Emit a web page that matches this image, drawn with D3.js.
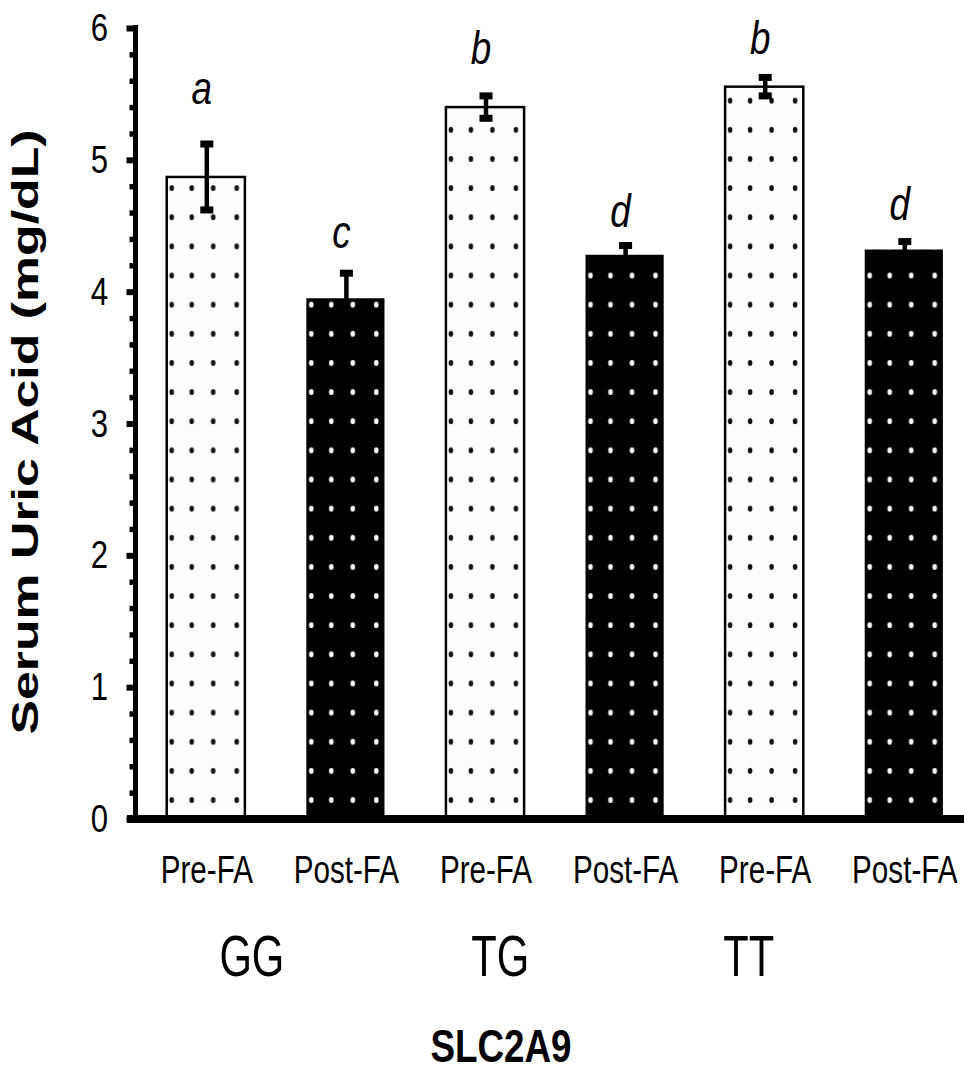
<!DOCTYPE html>
<html>
<head>
<meta charset="utf-8">
<script src="https://cdn.jsdelivr.net/npm/d3@7/dist/d3.min.js"></script>
<style>
html,body{margin:0;padding:0;background:#fff;}
svg{display:block;}
text{font-family:"Liberation Sans",Arial,Helvetica,sans-serif;fill:#000;}
</style>
</head>
<body>
<svg id="chart" width="964" height="1072"></svg>
<script>
// ---- data ----
const categories = ["Pre-FA","Post-FA","Pre-FA","Post-FA","Pre-FA","Post-FA"];
const phase = ["pre","post","pre","post","pre","post"];
const genotypes = ["GG","TG","TT"];
const means = [4.87, 3.95, 5.40, 4.28, 5.555, 4.32];
const errors = [0.25, 0.19, 0.085, 0.07, 0.07, 0.06];
const letters = ["a","c","b","d","b","d"];
const letterY = [5.42, 4.33, 5.73, 4.49, 5.80, 4.54];
const yTicks = [0,1,2,3,4,5,6];
const yTickLabels = ["0","1","2","3","4","5","6"];
const yMinor = [0.2,0.4,0.6,0.8,1.2,1.4,1.6,1.8,2.2,2.4,2.6,2.8,3.2,3.4,3.6,3.8,4.2,4.4,4.6,4.8,5.2,5.4,5.6,5.8];
const genotypeOffset = [0.33, 0.11, -0.11]; // label position relative to first bar of pair, in steps
const xTitle = "SLC2A9";
const yTitle = "Serum Uric Acid (mg/dL)";

// ---- layout ----
const svg = d3.select("#chart");
svg.append("rect").attr("width",964).attr("height",1072).attr("fill","#fff");

const y = d3.scaleLinear().domain([0,6]).range([819,28]);
const x = d3.scaleBand().domain(d3.range(categories.length)).range([136,973.6])
  .paddingInner(0.44).paddingOuter(0.22);
const bw = x.bandwidth();

// dot patterns
const defs = svg.append("defs");
const dotCols = [5, 25, 46.5, 70];
const rowStep = 29.14;
function makePattern(id, bg, dot){
  const p = defs.append("pattern").attr("id",id)
    .attr("patternUnits","userSpaceOnUse")
    .attr("x", x(0)).attr("y", y(0) - 19 - rowStep/2)
    .attr("width", x.step()).attr("height", rowStep);
  p.append("rect").attr("width", x.step()).attr("height", rowStep).attr("fill", bg);
  dotCols.forEach(c => p.append("ellipse").attr("cx", c).attr("cy", rowStep/2)
    .attr("rx", 2.3).attr("ry", 3).attr("fill", dot));
}
makePattern("lightDots", "#fdfdfd", "#111");
makePattern("darkDots", "#000", "#fff");

// bars
const idx = d3.range(categories.length);
svg.append("g").selectAll("rect").data(idx).join("rect")
  .attr("x", i => x(i))
  .attr("y", i => y(means[i]))
  .attr("width", bw)
  .attr("height", i => y(0) - y(means[i]))
  .attr("fill", i => phase[i]==="pre" ? "url(#lightDots)" : "url(#darkDots)")
  .attr("stroke", i => phase[i]==="pre" ? "#000" : "none")
  .attr("stroke-width", 2.5);

// error bars
const eg = svg.append("g");
idx.forEach(i => {
  const cx = x(i) + bw/2 + 1;
  eg.append("line").attr("x1",cx).attr("x2",cx)
    .attr("y1", y(means[i]-errors[i])).attr("y2", y(means[i]+errors[i]))
    .attr("stroke","#000").attr("stroke-width",4.5);
  [means[i]-errors[i], means[i]+errors[i]].forEach(v => {
    eg.append("rect").attr("x", cx-6.5).attr("y", y(v)-3.5).attr("width",13).attr("height",7).attr("fill","#000");
  });
});

// helper for condensed text
function stext(g, xx, yy, str, size, sx, opts={}){
  return g.append("text")
    .attr("transform", `translate(${xx},${yy}) scale(${sx},1)`)
    .attr("text-anchor", opts.anchor || "middle")
    .attr("font-size", size)
    .attr("font-weight", opts.weight || "normal")
    .attr("font-style", opts.style || "normal")
    .text(str);
}

// letters
const lg = svg.append("g");
idx.forEach(i => stext(lg, x(i)+bw/2-4, y(letterY[i]), letters[i], 46, 0.8, {style:"italic"}));

// y axis ticks
const minorAxis = d3.axisLeft(y).tickValues(yMinor).tickSize(6).tickFormat("");
const gMinor = svg.append("g").attr("transform","translate(135.5,0)").call(minorAxis);
gMinor.select(".domain").remove();
gMinor.selectAll(".tick line").attr("stroke","#000").attr("stroke-width",5.5);

const majorAxis = d3.axisLeft(y).tickValues(yTicks).tickSize(9).tickFormat("");
const gMajor = svg.append("g").attr("transform","translate(135.5,0)").call(majorAxis);
gMajor.select(".domain").remove();
gMajor.selectAll(".tick line").attr("stroke","#000").attr("stroke-width",6);

// y spine
svg.append("line").attr("x1",135.5).attr("x2",135.5).attr("y1",y(6)-3).attr("y2",y(0))
  .attr("stroke","#000").attr("stroke-width",5);

// y tick labels
const tl = svg.append("g");
yTicks.forEach((t,k) => stext(tl, 108, y(t)+13, yTickLabels[k], 38, 0.82, {anchor:"end"}));

// x axis line
svg.append("line").attr("x1",127).attr("x2",964).attr("y1",y(0)).attr("y2",y(0))
  .attr("stroke","#000").attr("stroke-width",8);

// category labels
const cl = svg.append("g");
idx.forEach(i => stext(cl, x(i)+bw/2+1, 883, categories[i], 38, 0.78));

// genotype labels
genotypes.forEach((gname,k) => {
  const first = k*2;
  stext(cl, x(first)+bw/2 + genotypeOffset[k]*x.step(), 976, gname, 58, 0.72);
});

// x title
stext(svg, 501, 1062, xTitle, 46, 0.8, {weight:"bold"});

// y title
svg.append("text")
  .attr("transform","translate(38,432) rotate(-90)")
  .attr("text-anchor","middle")
  .attr("font-size",37)
  .attr("font-weight","bold")
  .attr("textLength",605)
  .attr("lengthAdjust","spacingAndGlyphs")
  .text(yTitle);
</script>
</body>
</html>
